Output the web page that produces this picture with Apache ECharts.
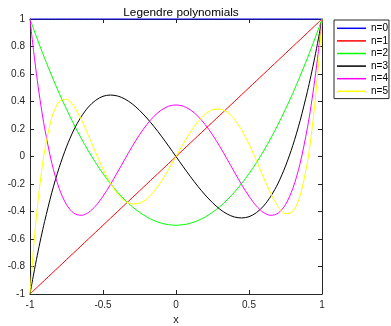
<!DOCTYPE html>
<html><head><meta charset="utf-8">
<script src="https://cdn.jsdelivr.net/npm/echarts@6/dist/echarts.min.js"></script>
<style>html,body{margin:0;padding:0;background:#fff}#c{width:391px;height:326px}</style>
</head><body><div id="c"></div>
<script>
const xs = [-1,-0.975,-0.95,-0.925,-0.9,-0.85,-0.8,-0.75,-0.7,-0.65,-0.6,-0.55,-0.5,-0.45,-0.4,-0.35,-0.3,-0.25,-0.2,-0.15,-0.1,-0.05,0,
 0.05,0.1,0.15,0.2,0.25,0.3,0.35,0.4,0.45,0.5,0.55,0.6,0.65,0.7,0.75,0.8,0.85,0.9,0.925,0.95,0.975,1];
const p0 = [1,1,1,1,1,1,1,1,1,1,1,1,1,1,1,1,1,1,1,1,1,1,1,1,1,1,1,1,1,1,1,1,1,1,1,1,1,1,1,1,1,1,1,1,1];
const p1 = [-1,-0.975,-0.95,-0.925,-0.9,-0.85,-0.8,-0.75,-0.7,-0.65,-0.6,-0.55,-0.5,-0.45,-0.4,-0.35,-0.3,-0.25,-0.2,-0.15,-0.1,-0.05,0,
 0.05,0.1,0.15,0.2,0.25,0.3,0.35,0.4,0.45,0.5,0.55,0.6,0.65,0.7,0.75,0.8,0.85,0.9,0.925,0.95,0.975,1];
const p2 = [1,0.926,0.854,0.783,0.715,0.584,0.46,0.344,0.235,0.134,0.04,-0.046,-0.125,-0.196,-0.26,-0.316,-0.365,-0.406,-0.44,-0.466,-0.485,-0.496,-0.5,
 -0.496,-0.485,-0.466,-0.44,-0.406,-0.365,-0.316,-0.26,-0.196,-0.125,-0.046,0.04,0.134,0.235,0.344,0.46,0.584,0.715,0.783,0.854,0.926,1];
const p3 = [-1,-0.855,-0.718,-0.591,-0.473,-0.26,-0.08,0.07,0.193,0.288,0.36,0.409,0.438,0.447,0.44,0.418,0.383,0.336,0.28,0.217,0.148,0.075,0,
 -0.075,-0.148,-0.217,-0.28,-0.336,-0.383,-0.418,-0.44,-0.447,-0.438,-0.409,-0.36,-0.288,-0.193,-0.07,0.08,0.26,0.473,0.591,0.718,0.855,1];
const p4 = [1,0.764,0.554,0.369,0.208,-0.051,-0.233,-0.35,-0.412,-0.428,-0.408,-0.359,-0.289,-0.205,-0.113,-0.019,0.073,0.158,0.232,0.293,0.338,0.366,0.375,
 0.366,0.338,0.293,0.232,0.158,0.073,-0.019,-0.113,-0.205,-0.289,-0.359,-0.408,-0.428,-0.412,-0.35,-0.233,-0.051,0.208,0.369,0.554,0.764,1];
const p5 = [-1,-0.657,-0.373,-0.142,0.041,0.286,0.4,0.416,0.365,0.271,0.153,0.028,-0.09,-0.192,-0.271,-0.323,-0.345,-0.34,-0.308,-0.252,-0.179,-0.093,0,
 0.093,0.179,0.252,0.308,0.34,0.345,0.323,0.271,0.192,0.09,-0.028,-0.153,-0.271,-0.365,-0.416,-0.4,-0.286,-0.041,0.142,0.373,0.657,1];
const names = ['n=0','n=1','n=2','n=3','n=4','n=5'];
const colors = ['#0000ff','#ff0000','#00ff00','#000000','#ff00ff','#ffff00'];
const xTicks = [-1,-0.5,0,0.5,1];
const yTicks = [-1,-0.8,-0.6,-0.4,-0.2,0,0.2,0.4,0.6,0.8,1];

const font = 'Liberation Sans, Arial, sans-serif';
const axCol = '#262626';
const allY = [p0,p1,p2,p3,p4,p5];
const chart = echarts.init(document.getElementById('c'));
const baseX = {type:'value', min:-1, max:1, interval:0.5,
  axisLine:{show:true, onZero:false, lineStyle:{color:axCol, width:1}},
  axisTick:{show:true, inside:true, length:4, lineStyle:{color:axCol}},
  splitLine:{show:false}};
const baseY = {type:'value', min:-1, max:1, interval:0.2,
  axisLine:{show:true, onZero:false, lineStyle:{color:axCol, width:1}},
  axisTick:{show:true, inside:true, length:4, lineStyle:{color:axCol}},
  splitLine:{show:false}};
chart.setOption({
  animation:false,
  title:{text:'Legendre polynomials', left:176, top:2, textAlign:'center',
    textStyle:{fontFamily:font, fontSize:11.8, fontWeight:'normal', color:'#000'}},
  grid:{left:30, right:69, top:19, bottom:32, containLabel:false, outerBoundsMode:'none'},
  legend:{orient:'vertical', left:334, top:20, data:names,
    itemWidth:29, itemHeight:1.5, itemGap:0, icon:'rect',
    padding:[2,1,1,3], borderColor:axCol, borderWidth:1,
    textStyle:{fontFamily:font, fontSize:10, color:'#000', lineHeight:12.6}},
  xAxis:[
    Object.assign({}, baseX, {position:'bottom', name:'x', nameLocation:'middle', nameGap:20,
      nameTextStyle:{fontFamily:font, fontSize:11, color:axCol},
      axisLabel:{fontFamily:font, fontSize:10, color:axCol, margin:6,
        formatter: v => xTicks.includes(Math.round(v*100)/100) ? String(Math.round(v*100)/100) : ''}}),
    Object.assign({}, baseX, {position:'top', axisLabel:{show:false}})
  ],
  yAxis:[
    Object.assign({}, baseY, {position:'left',
      axisLabel:{fontFamily:font, fontSize:10, color:axCol, margin:5,
        formatter: v => { const r = Math.round(v*10)/10; return yTicks.includes(r) ? String(r) : ''; }}}),
    Object.assign({}, baseY, {position:'right', axisLabel:{show:false}})
  ],
  series: allY.map((ys,i)=>({
    name:names[i], type:'line', xAxisIndex:0, yAxisIndex:0,
    data: xs.map((x,j)=>[x, ys[j]]),
    smooth:0.3, showSymbol:false, symbol:'none', clip:false,
    lineStyle:{color:colors[i], width:1}, itemStyle:{color:colors[i]}
  }))
});
</script></body></html>
